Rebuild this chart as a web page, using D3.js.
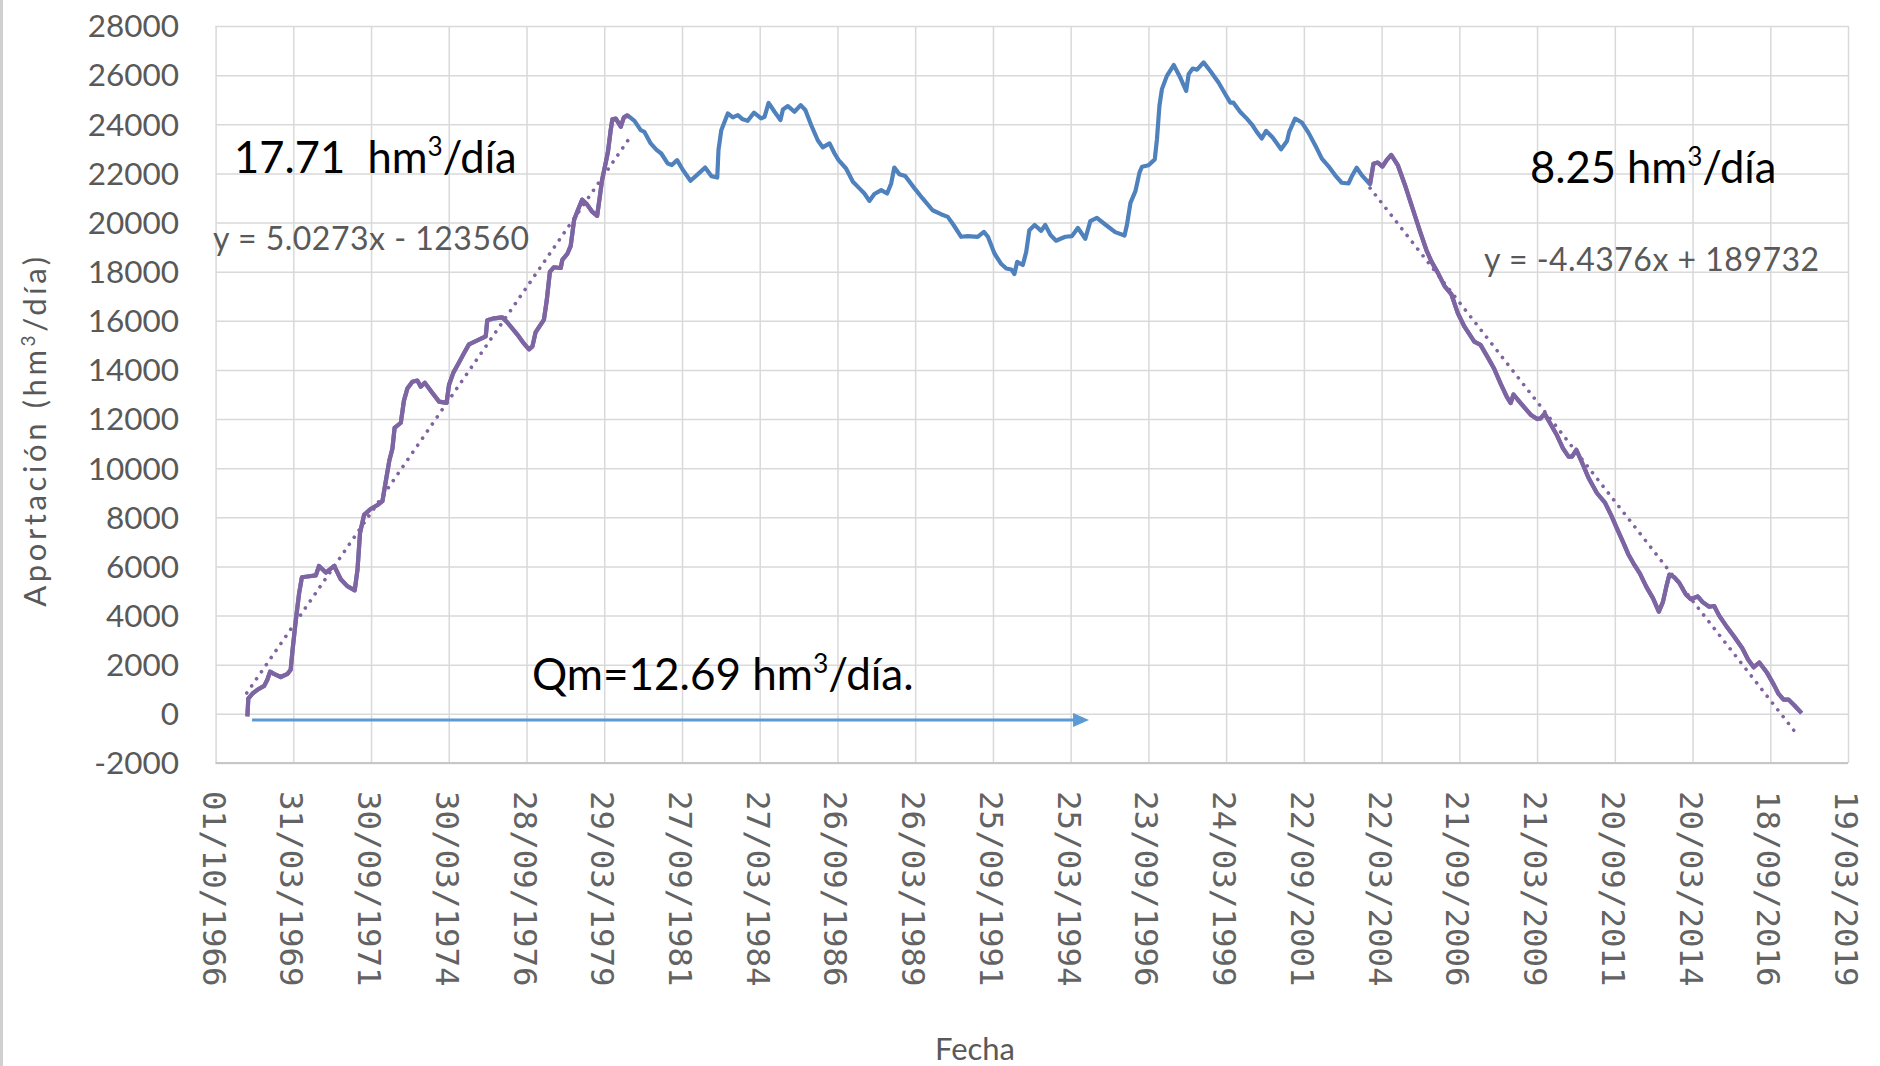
<!DOCTYPE html>
<html>
<head>
<meta charset="utf-8">
<script src="https://cdn.jsdelivr.net/npm/d3@7"></script>
<style>
  body { margin: 0; background: #fff; }
  svg { display: block; }
</style>
</head>
<body>
<svg id="chart" width="1880" height="1066"></svg>
<script>
// Curva de aportaciones acumuladas (desviación respecto a la media)

// --- datos ---
const fechasEje = ["01/10/1966", "31/03/1969", "30/09/1971", "30/03/1974", "28/09/1976", "29/03/1979",
    "27/09/1981", "27/03/1984", "26/09/1986", "26/03/1989", "25/09/1991", "25/03/1994",
    "23/09/1996", "24/03/1999", "22/09/2001", "22/03/2004", "21/09/2006", "21/03/2009",
    "20/09/2011", "20/03/2014", "18/09/2016", "19/03/2019"];
const valoresEje = [-2000, 0, 2000, 4000, 6000, 8000, 10000, 12000, 14000, 16000, 18000,
    20000, 22000, 24000, 26000, 28000];

// año decimal
const anios = [
    1967.77, 1967.80, 1967.93, 1968.09, 1968.31, 1968.41, 1968.50, 1968.62, 1968.84, 1969.06,
    1969.16, 1969.22, 1969.32, 1969.43, 1969.52, 1969.70, 1969.97, 1970.07, 1970.29, 1970.56,
    1970.77, 1970.98, 1971.22, 1971.31, 1971.39, 1971.52, 1971.73, 1971.95, 1972.11, 1972.22,
    1972.33, 1972.43, 1972.50, 1972.70, 1972.80, 1972.91, 1973.07, 1973.23, 1973.34, 1973.47,
    1973.71, 1973.93, 1974.17, 1974.25, 1974.39, 1974.57, 1974.73, 1974.89, 1975.16, 1975.43,
    1975.48, 1975.70, 1975.96, 1976.12, 1976.44, 1976.66, 1976.82, 1976.93, 1977.03, 1977.30,
    1977.39, 1977.49, 1977.62, 1977.84, 1977.89, 1978.05, 1978.16, 1978.27, 1978.43, 1978.53,
    1978.69, 1978.85, 1979.01, 1979.10, 1979.17, 1979.28, 1979.36, 1979.44, 1979.50, 1979.61,
    1979.77, 1979.87, 1979.98, 1980.05,
    1980.21, 1980.41, 1980.53, 1980.73, 1980.91, 1981.07, 1981.28, 1981.41, 1981.58, 1981.77,
    1982.01, 1982.25, 1982.48, 1982.68, 1982.87, 1982.91, 1983.00, 1983.21, 1983.37, 1983.53,
    1983.69, 1983.85, 1984.05, 1984.28, 1984.39, 1984.52, 1984.71, 1984.90, 1984.98, 1985.14,
    1985.35, 1985.55, 1985.70, 1985.89, 1986.10, 1986.26, 1986.48, 1986.64, 1986.77, 1987.01,
    1987.23, 1987.44, 1987.60, 1987.76, 1987.92, 1988.14, 1988.33, 1988.46, 1988.56, 1988.72,
    1988.91, 1989.21, 1989.47, 1989.79, 1990.06, 1990.28, 1990.47, 1990.71, 1990.92, 1991.24,
    1991.44, 1991.57, 1991.78, 1992.00, 1992.16, 1992.32, 1992.42, 1992.51, 1992.69, 1992.80,
    1992.90, 1993.07, 1993.28, 1993.41, 1993.58, 1993.76, 1993.92,
    1994.06, 1994.27, 1994.46, 1994.70, 1994.86, 1995.07, 1995.34, 1995.66, 1995.96, 1996.04,
    1996.15, 1996.31, 1996.44, 1996.52, 1996.73, 1996.93, 1997.00, 1997.08, 1997.16, 1997.32,
    1997.54, 1997.75, 1997.94, 1998.02, 1998.15, 1998.29, 1998.50, 1998.71, 1998.98, 1999.20,
    1999.36, 1999.46, 1999.68, 1999.89, 2000.05, 2000.21, 2000.37, 2000.51, 2000.72, 2000.99,
    2001.18, 2001.25, 2001.44, 2001.66, 2001.87, 2002.09, 2002.30, 2002.51, 2002.73, 2002.94,
    2003.16, 2003.26, 2003.42, 2003.59, 2003.85,
    2003.96, 2004.10, 2004.25, 2004.39, 2004.53, 2004.74, 2004.97, 2005.21, 2005.45, 2005.66,
    2005.82, 2006.03, 2006.25, 2006.46, 2006.67, 2006.88, 2007.20, 2007.40, 2007.63, 2007.84,
    2008.05, 2008.25, 2008.37, 2008.46, 2008.69, 2009.01, 2009.22, 2009.33, 2009.46, 2009.65,
    2009.86, 2010.05, 2010.23, 2010.34, 2010.48, 2010.66, 2010.87, 2011.14, 2011.40, 2011.61,
    2011.77, 2011.99, 2012.15, 2012.31, 2012.52, 2012.73, 2012.94, 2013.13, 2013.26, 2013.37,
    2013.47, 2013.63, 2013.79, 2014.00, 2014.16, 2014.38, 2014.54, 2014.75, 2014.91, 2015.07,
    2015.28, 2015.55, 2015.81, 2016.00, 2016.18, 2016.36, 2016.61, 2016.82, 2016.98, 2017.14,
    2017.30, 2017.49, 2017.72
];
// hm3 acumulados
const aportacion = [
    -100, 620, 820, 980, 1140, 1390, 1720, 1630, 1500, 1630,
    1800, 2600, 3760, 4900, 5560, 5590, 5640, 6020, 5750, 6020,
    5480, 5200, 5030, 5890, 7360, 8100, 8340, 8500, 8660, 9480,
    10300, 10790, 11640, 11850, 12750, 13240, 13520, 13570, 13320, 13480,
    13070, 12710, 12660, 13400, 13890, 14300, 14680, 15040, 15200, 15370,
    16020, 16100, 16140, 15940, 15450, 15070, 14840, 14960, 15530, 16050,
    16840, 17990, 18180, 18150, 18480, 18720, 19050, 20110, 20630, 20930,
    20730, 20440, 20270, 21090, 21740, 22400, 22890, 23710, 24200, 24230,
    23900, 24280, 24360, 24300,
    24140, 23760, 23690, 23220, 22970, 22810, 22400, 22340, 22540, 22130,
    21700, 21970, 22240, 21890, 21830, 22950, 23760, 24440, 24280, 24370,
    24200, 24140, 24470, 24240, 24300, 24870, 24510, 24170, 24600, 24740,
    24510, 24780, 24580, 23960, 23350, 23060, 23220, 22810, 22540, 22200,
    21660, 21390, 21180, 20880, 21160, 21320, 21180, 21590, 22240, 21970,
    21890, 21390, 20980, 20500, 20340, 20230, 19890, 19420, 19450, 19420,
    19620, 19420, 18740, 18310, 18130, 18090, 17900, 18400, 18270, 18810,
    19690, 19900, 19660, 19900, 19490, 19260, 19350,
    19420, 19450, 19780, 19340, 20060, 20190, 19920, 19610, 19470, 19920,
    20800, 21280, 22030, 22270, 22330, 22570, 23390, 24750, 25430, 25970,
    26410, 25900, 25360, 26040, 26270, 26220, 26520, 26180, 25700, 25220,
    24880, 24880, 24500, 24230, 24000, 23690, 23420, 23730, 23460, 22980,
    23320, 23690, 24230, 24070, 23660, 23140, 22600, 22300, 21920, 21620,
    21590, 21870, 22230, 21920, 21560,
    22390, 22440, 22280, 22550, 22750, 22340, 21530, 20600, 19660, 18880,
    18420, 17950, 17400, 17090, 16310, 15770, 15150, 15020, 14520, 14050,
    13430, 12890, 12650, 13000, 12650, 12180, 12000, 12030, 12220, 11800,
    11330, 10810, 10470, 10470, 10750, 10240, 9610, 8990, 8600, 8060,
    7590, 6970, 6500, 6140, 5720, 5170, 4710, 4160, 4550, 5170,
    5670, 5560, 5330, 4860, 4670, 4780, 4550, 4360, 4390, 4000,
    3610, 3150, 2680, 2210, 1900, 2090, 1670, 1200, 810, 580,
    580, 340, 30
];

// tramos ajustados (años decimales) y rectas de tendencia de Excel (x = número de serie de fecha)
const tramoInicio = [1967.75, 2003.85];
const tramoFin = [1980.05, 2017.72];
const tendenciaFin = [1980.05, 2017.62];
const pendiente = [5.0273, -4.4376];
const ordenada = [-123560, 189732];
const ecuaciones = ["y = 5.0273x - 123560", "y = -4.4376x + 189732"];

// flecha del caudal medio
const flechaAnios = [1967.92, 1994.82];
const flechaValor = -250;

// --- estilo ---
const W = 1880, H = 1066;
const plot = { left: 215.6, right: 1848, top: 26, bottom: 763 };
const colorAzul = "#4f81bd";
const colorMorado = "#8064a2";
const colorFlecha = "#5b9bd5";
const colorGris = "#595959";
const colorRejilla = "#d9d9d9";
const fuente = "Lato, 'Open Sans', sans-serif";

function anioAFecha(a) {
    const y = Math.floor(a);
    const ini = Date.UTC(y, 0, 1), fin = Date.UTC(y + 1, 0, 1);
    return new Date(ini + (a - y) * (fin - ini));
}
// número de serie de fecha de Excel
function serieExcel(fecha) {
    return (fecha - Date.UTC(1899, 11, 30)) / 864e5;
}

const parseFecha = d3.utcParse("%d/%m/%Y");
const ticksX = fechasEje.map(parseFecha);

const x = d3.scaleUtc()
    .domain([ticksX[0], ticksX[ticksX.length - 1]])
    .range([plot.left, plot.right]);
const y = d3.scaleLinear()
    .domain([valoresEje[0], valoresEje[valoresEje.length - 1]])
    .range([plot.bottom, plot.top]);

const svg = d3.select("#chart");

svg.append("rect").attr("width", W).attr("height", H).attr("fill", "#fff");
// borde izquierdo del gráfico
svg.append("line")
    .attr("x1", 1.5).attr("x2", 1.5).attr("y1", 0).attr("y2", H)
    .attr("stroke", "#d0d0d0").attr("stroke-width", 3);

// rejilla horizontal
svg.append("g")
    .attr("transform", `translate(${plot.left},0)`)
    .call(d3.axisLeft(y).tickValues(valoresEje).tickSize(-(plot.right - plot.left)).tickFormat(""))
    .call(g => g.select(".domain").remove())
    .call(g => g.selectAll("line").attr("stroke", colorRejilla).attr("stroke-width", 1.5));

// rejilla vertical
svg.append("g")
    .attr("transform", `translate(0,${plot.bottom})`)
    .call(d3.axisBottom(x).tickValues(ticksX).tickSize(-(plot.bottom - plot.top)).tickFormat(""))
    .call(g => g.select(".domain").remove())
    .call(g => g.selectAll("line").attr("stroke", colorRejilla).attr("stroke-width", 1.5));

// línea base del eje
svg.append("line")
    .attr("x1", plot.left).attr("x2", plot.right)
    .attr("y1", y(valoresEje[0])).attr("y2", y(valoresEje[0]))
    .attr("stroke", "#c6c6c6").attr("stroke-width", 2);

// etiquetas eje Y
svg.append("g")
    .selectAll("text")
    .data(valoresEje)
    .join("text")
    .attr("x", 179)
    .attr("y", d => y(d))
    .attr("dy", "0.36em")
    .attr("text-anchor", "end")
    .attr("font-family", fuente)
    .attr("font-size", 31.5)
    .attr("fill", colorGris)
    .text(d => d);

// etiquetas eje X (giradas)
svg.append("g")
    .selectAll("text")
    .data(fechasEje)
    .join("text")
    .attr("transform", (d, i) => `translate(${x(ticksX[i]) - 2},791) rotate(90)`)
    .attr("dominant-baseline", "central")
    .attr("font-family", "'DejaVu Sans Mono', 'Liberation Mono', monospace")
    .attr("font-size", 32.5)
    .attr("fill", "#636363")
    .text(d => d);

// títulos de ejes
const tituloY = svg.append("text")
    .attr("transform", "translate(46,430) rotate(-90)")
    .attr("text-anchor", "middle")
    .attr("font-family", fuente)
    .attr("font-size", 31)
    .attr("fill", colorGris)
    .attr("letter-spacing", 3.6);
tituloY.append("tspan").text("Aportación (hm");
tituloY.append("tspan").attr("font-size", 19).attr("dy", -11).text("3");
tituloY.append("tspan").attr("dy", 11).text("/día)");

svg.append("text")
    .attr("x", 975).attr("y", 1060)
    .attr("text-anchor", "middle")
    .attr("font-family", fuente)
    .attr("font-size", 31)
    .attr("fill", colorGris)
    .text("Fecha");

// serie completa
const puntos = anios.map((a, i) => ({ fecha: anioAFecha(a), anio: a, valor: aportacion[i] }));
const linea = d3.line().x(d => x(d.fecha)).y(d => y(d.valor));

svg.append("path")
    .datum(puntos)
    .attr("d", linea)
    .attr("fill", "none")
    .attr("stroke", colorAzul)
    .attr("stroke-width", 4.2)
    .attr("stroke-linejoin", "round");

// tramos en morado + tendencias punteadas
tramoInicio.forEach((ini, k) => {
    const tramo = puntos.filter(d => d.anio >= ini - 0.001 && d.anio <= tramoFin[k] + 0.001);
    svg.append("path")
        .datum(tramo)
        .attr("d", linea)
        .attr("fill", "none")
        .attr("stroke", colorMorado)
        .attr("stroke-width", 4.2)
        .attr("stroke-linejoin", "round");

    const extremos = [anioAFecha(ini), anioAFecha(tendenciaFin[k])]
        .map(f => ({ fecha: f, valor: pendiente[k] * serieExcel(f) + ordenada[k] }));
    svg.append("path")
        .datum(extremos)
        .attr("d", linea)
        .attr("fill", "none")
        .attr("stroke", colorMorado)
        .attr("stroke-width", 3.6)
        .attr("stroke-linecap", "round")
        .attr("stroke-dasharray", "0.1 8.5");
});

// flecha Qm
svg.append("defs").append("marker")
    .attr("id", "punta")
    .attr("markerUnits", "userSpaceOnUse")
    .attr("viewBox", "0 0 16 14")
    .attr("markerWidth", 16).attr("markerHeight", 14)
    .attr("refX", 2).attr("refY", 7)
    .attr("orient", "auto")
    .append("path")
    .attr("d", "M0,0 L16,7 L0,14 Z")
    .attr("fill", colorFlecha);

svg.append("line")
    .attr("x1", x(anioAFecha(flechaAnios[0])))
    .attr("x2", x(anioAFecha(flechaAnios[1])) - 14)
    .attr("y1", y(flechaValor)).attr("y2", y(flechaValor))
    .attr("stroke", colorFlecha)
    .attr("stroke-width", 2.8)
    .attr("marker-end", "url(#punta)");

// anotaciones
function textoHm(xp, yp, antes, despues, size) {
    const t = svg.append("text")
        .attr("x", xp).attr("y", yp)
        .attr("font-family", fuente)
        .attr("font-size", size)
        .attr("fill", "#000")
        .style("white-space", "pre");
    t.append("tspan").text(antes + "hm");
    t.append("tspan").attr("font-size", size * 0.6).attr("dy", -size * 0.38).text("3");
    t.append("tspan").attr("dy", size * 0.38).text(despues);
}
textoHm(234, 173, "17.71  ", "/día", 43.5);
textoHm(1530, 183, "8.25 ", "/día", 43.5);
textoHm(532, 690, "Qm=12.69 ", "/día.", 44);

svg.append("text")
    .attr("x", 213).attr("y", 250)
    .attr("font-family", fuente)
    .attr("font-size", 32)
    .attr("letter-spacing", 0.5)
    .attr("fill", colorGris)
    .text(ecuaciones[0]);
svg.append("text")
    .attr("x", 1484).attr("y", 271)
    .attr("font-family", fuente)
    .attr("font-size", 32)
    .attr("letter-spacing", 0.5)
    .attr("fill", colorGris)
    .text(ecuaciones[1]);
</script>
</body>
</html>
